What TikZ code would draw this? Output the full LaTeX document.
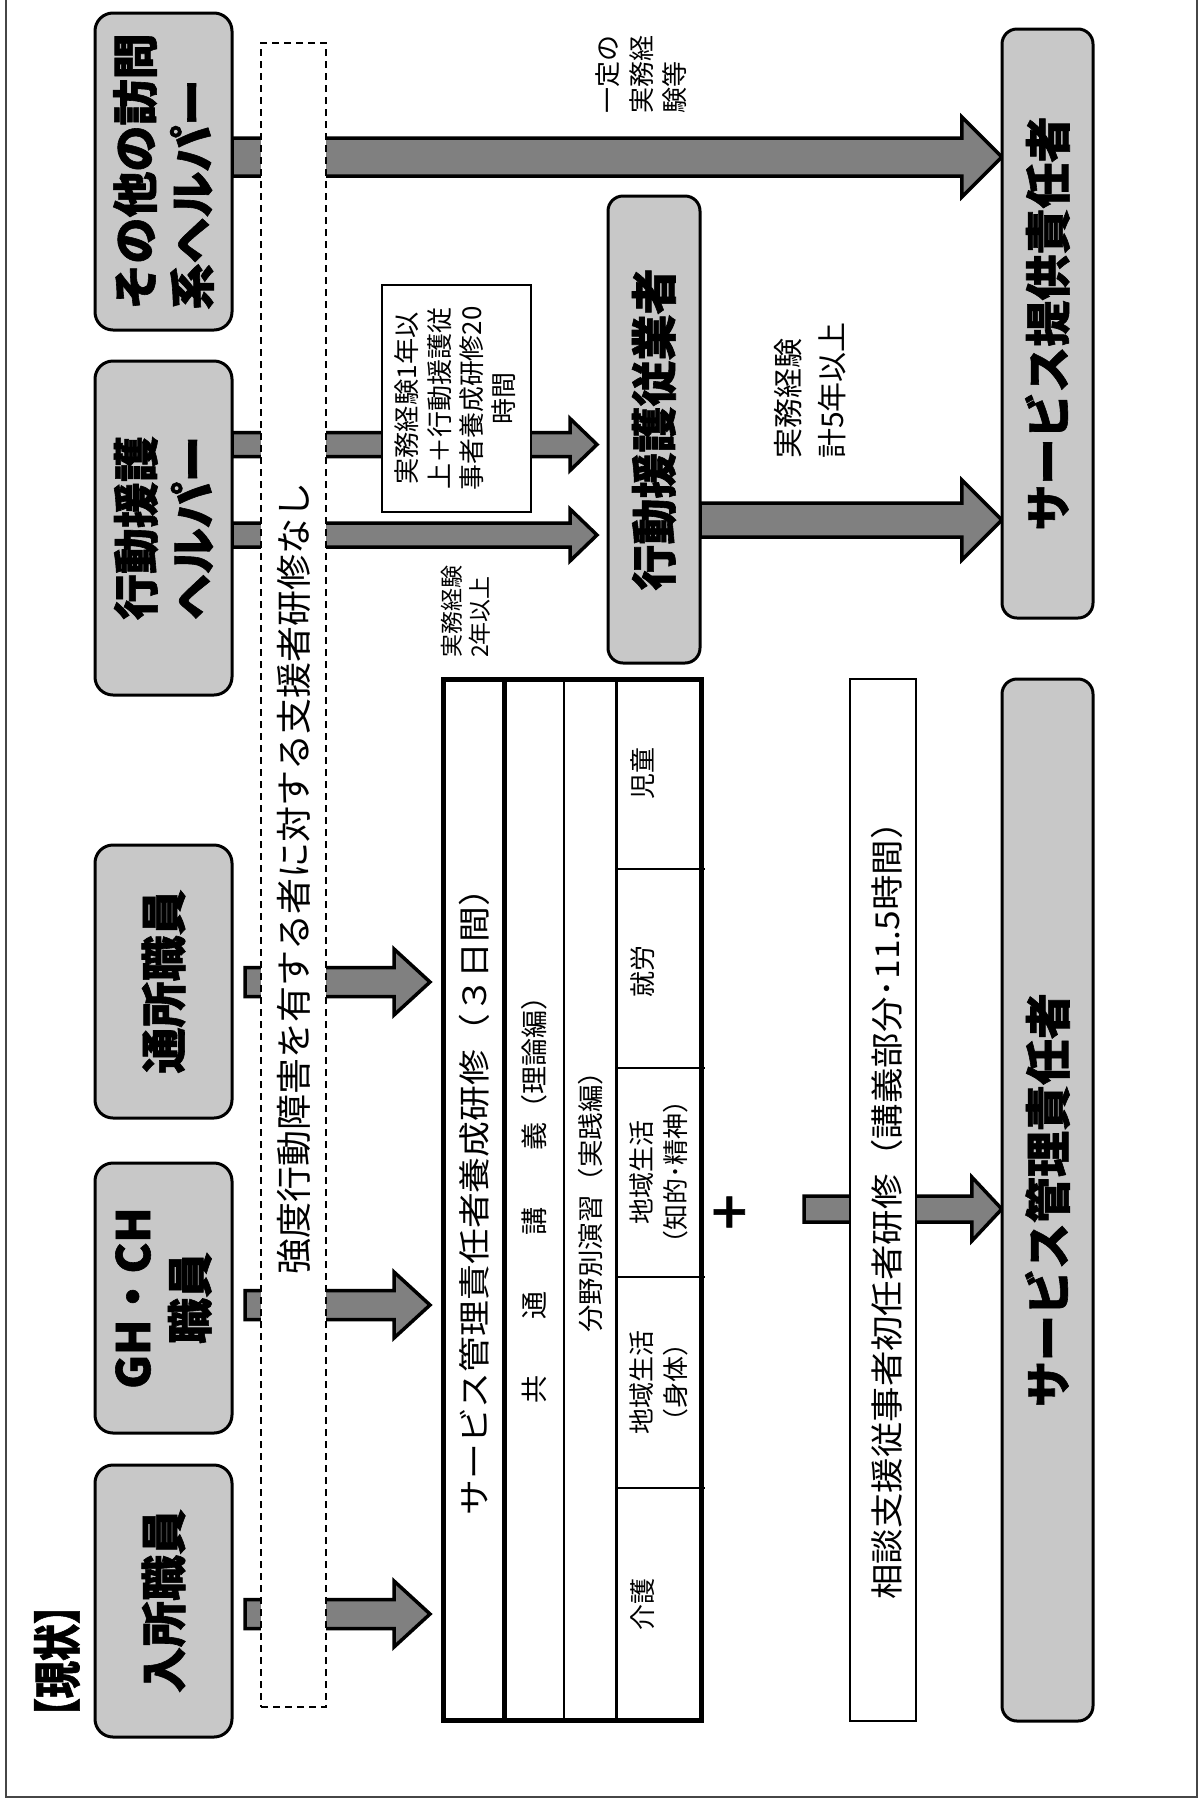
\documentclass[tikz,border=0pt]{standalone}
\usepackage{fontspec}
\setmainfont{Noto Sans CJK JP}[BoldFeatures={FakeBold=1.3}]
\usepackage{graphicx}
\usetikzlibrary{calc}
\definecolor{boxgray}{RGB}{200,200,200}
\definecolor{arrowgray}{RGB}{128,128,128}
\definecolor{framegray}{RGB}{70,70,70}
\newsavebox\fitbox
\newcommand\fitto[3]{\sbox\fitbox{\fontsize{#2}{#2}\selectfont #3}\pgfmathsetmacro\fitr{#1/\the\wd\fitbox}\scalebox{\fitr}[1]{\usebox\fitbox}}
\newcommand\barrow[5]{%
  \draw[blockarrow] ($(#1)+(0,-#3)$) -- ($(#2)+(-#5,-#3)$) -- ($(#2)+(-#5,-#4)$) -- (#2)
    -- ($(#2)+(-#5,#4)$) -- ($(#2)+(-#5,#3)$) -- ($(#1)+(0,#3)$) -- cycle;}
\begin{document}
\begin{tikzpicture}[x=1pt,y=-1pt,
  graybox/.style={draw=black, line width=3pt, fill=boxgray, rounded corners=18pt, inner sep=0pt},
  whitebox/.style={draw=black, line width=1.6pt, fill=white, inner sep=0pt},
  btext/.style={rotate=90, inner sep=0pt, font=\bfseries\fontsize{46}{57}\selectfont},
  ltext/.style={rotate=90, inner sep=0pt},
  blockarrow/.style={fill=arrowgray, draw=black, line width=3.5pt, line join=miter}]
\useasboundingbox (0,0) rectangle (1201,1800);
% outer frame
\draw[line width=2pt, draw=framegray] (6,-10) rectangle (1197,1797);

% anchor helpers for arrows
\path (163.5,171.5) node[minimum width=137pt, minimum height=317pt, inner sep=0pt] (otherA) {};
\path (163.5,528) node[minimum width=137pt, minimum height=334pt, inner sep=0pt] (kodoA) {};
\path (654,429.5) node[minimum width=92pt, minimum height=467pt, inner sep=0pt] (kodojuA) {};
\path (1047.5,323.5) node[minimum width=91pt, minimum height=589pt, inner sep=0pt] (teikyoA) {};
\path (1047.5,1200) node[minimum width=91pt, minimum height=1042pt, inner sep=0pt] (kanriA) {};

\coordinate (a1s) at (otherA.east |- 0,157);
\coordinate (a1t) at (teikyoA.west |- 0,157);
\coordinate (a2s) at (kodoA.east |- 0,444.5);
\coordinate (a2t) at (597,444.5);
\coordinate (a3s) at (kodoA.east |- 0,535);
\coordinate (a3t) at (597,535);
\coordinate (a4s) at (kodojuA.east |- 0,520);
\coordinate (a4t) at (teikyoA.west |- 0,520);
\coordinate (a5s) at (245,982);
\coordinate (a5t) at (430,982);
\coordinate (a6s) at (245,1305);
\coordinate (a6t) at (430,1305);
\coordinate (a7s) at (245,1614);
\coordinate (a7t) at (430,1614);
\coordinate (a8s) at (804,1209);
\coordinate (a8t) at (kanriA.west |- 0,1209);

% arrows
\barrow{a1s}{a1t}{19}{40}{40}
\barrow{a2s}{a2t}{12}{26}{27}
\barrow{a3s}{a3t}{12}{26}{27}
\barrow{a4s}{a4t}{17}{40}{40}
\barrow{a5s}{a5t}{14.5}{33}{36}
\barrow{a6s}{a6t}{14.5}{33}{36}
\barrow{a7s}{a7t}{14.5}{33}{36}
\barrow{a8s}{a8t}{13}{32}{30}

% dashed box
\node[draw=black, fill=white, line width=1.6pt, dash pattern=on 7pt off 5pt, inner sep=0pt,
  minimum width=65pt, minimum height=1664pt] (dashbox) at (293.5,875) {};
\node[ltext] (dashtext) at (293.5,878) {\fitto{792}{36}{強度行動障害を有する者に対する支援者研修なし}};

% requirement box
\node[whitebox, minimum width=149pt, minimum height=227pt] (reqbox) at (456.5,398.5) {};
\node[ltext, align=center, font=\fontsize{26}{32.3}\selectfont] (reqtext) at (455.5,398.5)
  {\fitto{172}{26}{実務経験1年以}\\\fitto{182}{26}{上＋行動援護従}\\\fitto{184}{26}{事者養成研修20}\\時間};

% soudan box
\node[whitebox, line width=2pt, minimum width=66pt, minimum height=1042pt] (soudanbox) at (883,1200) {};
\node[ltext] (soudantext) at (887,1202) {\fitto{795}{33}{相談支援従事者初任者研修（講義部分･11.5時間）}};

% gray boxes
\node[graybox, minimum width=137pt, minimum height=317pt] (other) at (otherA) {};
\node[graybox, minimum width=137pt, minimum height=334pt] (kodo) at (kodoA) {};
\node[graybox, minimum width=137pt, minimum height=273pt] (tsusho) at (163.5,981.5) {};
\node[graybox, minimum width=137pt, minimum height=270pt] (gh) at (163.5,1298) {};
\node[graybox, minimum width=137pt, minimum height=272pt] (nyusho) at (163.5,1601) {};
\node[graybox, rounded corners=15pt, minimum width=92pt, minimum height=467pt] (kodoju) at (kodojuA) {};
\node[graybox, rounded corners=15pt, minimum width=91pt, minimum height=589pt] (teikyo) at (teikyoA) {};
\node[graybox, rounded corners=15pt, minimum width=91pt, minimum height=1042pt] (kanri) at (kanriA) {};

\node[btext, align=left] (othertext) at (other.center) {その他の訪問\\系ヘルパー};
\node[btext, align=left] (kodotext) at (kodo.center) {行動援護\\ヘルパー};
\node[btext] (tsushotext) at (tsusho.center) {通所職員};
\node[btext, align=center] (ghtext) at (gh.center) {GH・CH\\職員};
\node[btext] (nyushotext) at (nyusho.center) {入所職員};
\node[btext] (kodojutext) at (kodoju.center) {行動援護従業者};
\node[btext] (teikyotext) at (teikyo.center) {サービス提供責任者};
\node[btext] (kanritext) at (kanri.center) {サービス管理責任者};

\node[ltext, font=\bfseries] (genjo) at (57,1661) {\fitto{148}{48}{【現状】}};

% table
\node[draw=black, line width=5pt, minimum width=258pt, minimum height=1041pt, inner sep=0pt] (table) at (572,1199.5) {};
\draw[line width=5pt] (504.5,679) -- (504.5,1720);
\draw[line width=2.5pt] (564,679) -- (564,1720);
\draw[line width=2.5pt] (616.5,679) -- (616.5,1720);
\foreach \yy in {869,1068,1277,1488} \draw[line width=2.5pt] (616.5,\yy) -- (705,\yy);

\node[ltext] (ttitle) at (474,1193) {\fitto{645}{32}{サービス管理責任者養成研修（３日間）}};
\node[ltext] (tcommon) at (534,1193) {\fitto{421}{27}{共　　通　　講　　義（理論編）}};
\node[ltext] (tbunya) at (591,1195) {\fitto{275}{26}{分野別演習（実践編）}};
\begin{scope}[every node/.style={ltext, align=center, font=\fontsize{26}{34}\selectfont}]
\node (cjido) at (643,773) {児童};
\node (cshuro) at (643,971) {就労};
\node (cseishin) at (659,1172) {地域生活\\（知的･精神）};
\node (cshintai) at (659,1382) {地域生活\\（身体）};
\node (ckaigo) at (643,1604) {介護};
\end{scope}

\node[ltext, font=\bfseries\fontsize{44}{44}\selectfont] (plus) at (730,1212) {＋};

% labels
\node[ltext, anchor=west, align=left, font=\fontsize{26}{33.5}\selectfont] (lbl1) at (641.5,114) {一定の\\実務経\\験等};
\node[ltext, anchor=west, align=left, font=\fontsize{23}{28}\selectfont] (lbl2) at (466,658) {実務経験\\2年以上};
\node[ltext, anchor=west, align=left, font=\fontsize{30}{44}\selectfont] (lbl3) at (810,459) {実務経験\\計5年以上};
\end{tikzpicture}
\end{document}
